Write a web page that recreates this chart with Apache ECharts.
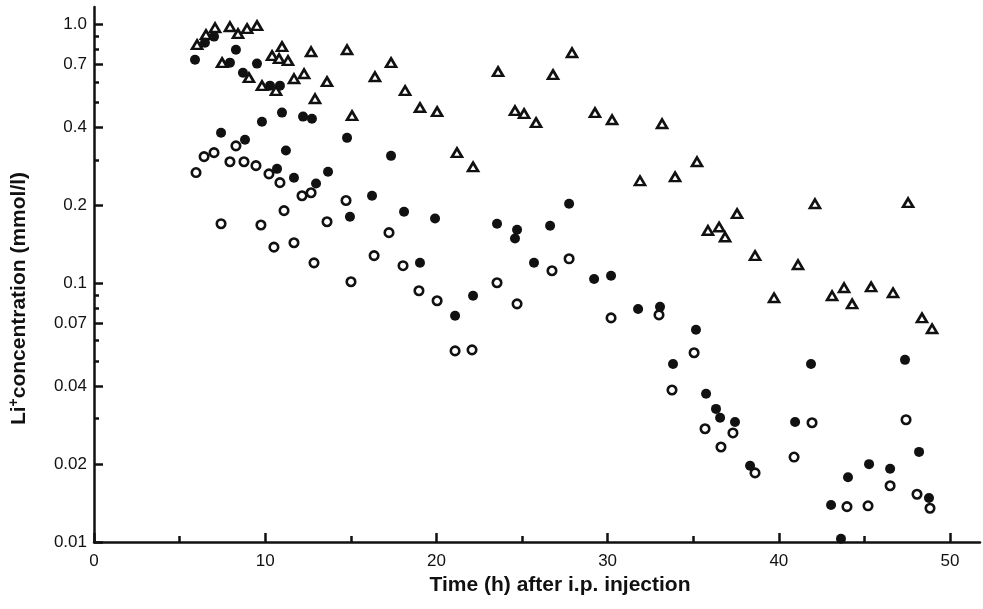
<!DOCTYPE html>
<html>
<head>
<meta charset="utf-8">
<script src="https://cdn.jsdelivr.net/npm/echarts@6/dist/echarts.min.js"></script>
<style>
  html, body { margin: 0; padding: 0; background: #fff; }
  #chart { width: 983px; height: 609px; }
</style>
</head>
<body>
<div id="chart"></div>
<script>
// [time (h), Li+ concentration (mmol/l)]
const triangles = [
  [6.02, 0.837], [6.54, 0.915], [7.07, 0.973], [7.94, 0.982], [8.41, 0.923],
  [8.94, 0.965], [9.52, 0.991], [7.48, 0.713], [9.05, 0.624], [9.81, 0.581],
  [10.40, 0.759], [10.81, 0.739], [10.98, 0.822], [11.33, 0.726], [10.63, 0.556],
  [11.68, 0.618], [12.27, 0.646], [12.68, 0.786], [12.91, 0.517], [13.61, 0.602],
  [14.78, 0.800], [15.07, 0.445], [16.41, 0.629], [17.35, 0.713], [18.17, 0.556],
  [19.04, 0.478], [20.04, 0.461], [21.20, 0.320], [22.14, 0.282], [23.60, 0.658],
  [24.59, 0.465], [25.12, 0.453], [25.82, 0.418], [26.81, 0.641], [27.92, 0.779],
  [29.26, 0.457], [30.26, 0.429], [31.89, 0.249], [33.18, 0.414], [33.94, 0.258],
  [35.22, 0.295], [37.56, 0.186], [35.86, 0.160], [36.51, 0.165], [36.86, 0.151],
  [38.61, 0.128], [41.12, 0.118], [42.11, 0.203], [39.72, 0.0879], [43.11, 0.0895],
  [43.81, 0.0961], [44.28, 0.0833], [45.39, 0.0969], [46.67, 0.0919], [47.55, 0.205],
  [48.36, 0.0735], [48.95, 0.0667]
];

const filledCircles = [
  [5.90, 0.732], [6.48, 0.852], [7.01, 0.899], [8.29, 0.800], [7.94, 0.713],
  [9.52, 0.707], [8.70, 0.652], [10.28, 0.581], [10.86, 0.581], [10.98, 0.457],
  [9.81, 0.421], [12.21, 0.441], [12.73, 0.433], [7.42, 0.382], [8.82, 0.359],
  [14.78, 0.365], [11.21, 0.326], [10.69, 0.277], [11.68, 0.256], [13.67, 0.270],
  [12.97, 0.243], [14.95, 0.181], [17.35, 0.311], [16.24, 0.218], [18.11, 0.189],
  [19.92, 0.178], [23.54, 0.170], [24.71, 0.161], [24.59, 0.149], [26.64, 0.167],
  [27.75, 0.203], [19.04, 0.120], [25.70, 0.120], [29.21, 0.104], [30.20, 0.107],
  [22.14, 0.0895], [21.09, 0.0749], [31.78, 0.0796], [33.06, 0.0811], [35.16, 0.0661],
  [33.82, 0.0488], [41.88, 0.0488], [47.37, 0.0506], [35.75, 0.0374], [36.33, 0.0327],
  [36.57, 0.0302], [37.44, 0.0291], [38.32, 0.0197], [40.95, 0.0291], [48.19, 0.0223],
  [45.27, 0.0200], [46.50, 0.0192], [44.04, 0.0178], [43.05, 0.0139], [48.77, 0.0148],
  [43.63, 0.0103]
];

const openCircles = [
  [5.96, 0.268], [6.43, 0.309], [7.01, 0.320], [8.29, 0.340], [7.94, 0.295],
  [8.76, 0.295], [9.46, 0.285], [10.22, 0.265], [10.86, 0.245], [12.15, 0.218],
  [12.68, 0.224], [11.10, 0.191], [7.42, 0.170], [9.75, 0.168], [13.61, 0.173],
  [14.72, 0.209], [10.51, 0.138], [11.68, 0.1435], [12.85, 0.120], [17.23, 0.157],
  [16.36, 0.128], [18.05, 0.117], [15.01, 0.1014], [18.98, 0.0936], [20.04, 0.0856],
  [23.54, 0.1005], [24.71, 0.0833], [21.09, 0.0548], [22.08, 0.0553], [26.75, 0.1118],
  [27.75, 0.1244], [30.20, 0.0735], [33.00, 0.0755], [35.05, 0.0539], [33.76, 0.0387],
  [35.69, 0.0274], [36.62, 0.0233], [37.32, 0.0264], [38.61, 0.0185], [41.94, 0.0289],
  [40.89, 0.0213], [47.43, 0.0297], [43.98, 0.0137], [45.21, 0.0138], [46.50, 0.0165],
  [48.07, 0.0153], [48.83, 0.0135]
];

const xMajorTicks = [0, 10, 20, 30, 40, 50];
const xMinorTicks = [5, 15, 25, 35, 45];
const yMajorTicks = [0.01, 0.02, 0.04, 0.07, 0.1, 0.2, 0.4, 0.7, 1.0];
const yMajorLabels = ['0.01', '0.02', '0.04', '0.07', '0.1', '0.2', '0.4', '0.7', '1.0'];
const yMinorTicks = [0.03, 0.05, 0.06, 0.08, 0.09, 0.3, 0.5, 0.6, 0.8, 0.9];

const xMax = 51.75;
const yMin = 0.01;
const yMax = 1.17;

const chart = echarts.init(document.getElementById('chart'));

const font = '"Liberation Sans", Arial, sans-serif';
const ink = '#111';

// the plotted data sit on the log axis; the two value axes (in log10 units)
// only carry the hand-picked ticks and labels of the original figure
const logMin = Math.log10(yMin);
const logMax = Math.log10(yMax);

function yLabel(v) {
  let best = 0;
  yMajorTicks.forEach((t, i) => {
    if (Math.abs(Math.log10(t) - v) < Math.abs(Math.log10(yMajorTicks[best]) - v)) best = i;
  });
  return yMajorLabels[best];
}

const option = {
  backgroundColor: '#fff',
  animation: false,
  grid: {
    left: 94, right: 3, top: 7, bottom: 67,
    containLabel: false,
    outerBoundsMode: 'none'
  },
  xAxis: [
    {
      type: 'value',
      min: 0,
      max: xMax,
      position: 'bottom',
      name: 'Time (h) after i.p. injection',
      nameLocation: 'middle',
      nameGap: 33,
      nameTextStyle: {
        fontFamily: font, fontSize: 21, fontWeight: 'bold', color: ink,
        padding: [0, 0, 0, 46]
      },
      axisLine: { show: true, onZero: false, lineStyle: { color: ink, width: 2.5 } },
      axisTick: {
        show: true, inside: true, length: 9,
        customValues: xMajorTicks,
        lineStyle: { color: ink, width: 2.5 }
      },
      axisLabel: {
        show: true, margin: 11,
        customValues: xMajorTicks,
        fontFamily: font, fontSize: 17, color: ink
      },
      splitLine: { show: false }
    },
    {
      type: 'value',
      min: 0,
      max: xMax,
      position: 'bottom',
      axisLine: { show: false, onZero: false },
      axisTick: {
        show: true, inside: true, length: 6,
        customValues: xMinorTicks,
        lineStyle: { color: ink, width: 2.5 }
      },
      axisLabel: { show: false },
      splitLine: { show: false }
    }
  ],
  yAxis: [
    {
      type: 'log',
      logBase: 10,
      min: yMin,
      max: yMax,
      show: false
    },
    {
      type: 'value',
      min: logMin,
      max: logMax,
      position: 'left',
      name: 'Li{sup|+}concentration (mmol/l)',
      nameLocation: 'middle',
      nameGap: 63,
      nameRotate: 90,
      nameTextStyle: {
        fontFamily: font, fontSize: 21, fontWeight: 'bold', color: ink,
        padding: [0, 48, 0, 0],
        rich: {
          sup: {
            fontFamily: font, fontSize: 14, fontWeight: 'bold', color: ink,
            verticalAlign: 'bottom', padding: [0, 0, 10, 0]
          }
        }
      },
      axisLine: { show: true, onZero: false, lineStyle: { color: ink, width: 2.5 } },
      axisTick: {
        show: true, inside: true, length: 9,
        customValues: yMajorTicks.map(Math.log10),
        lineStyle: { color: ink, width: 2.5 }
      },
      axisLabel: {
        show: true, margin: 7,
        customValues: yMajorTicks.map(Math.log10),
        formatter: yLabel,
        fontFamily: font, fontSize: 17, color: ink
      },
      splitLine: { show: false }
    },
    {
      type: 'value',
      min: logMin,
      max: logMax,
      position: 'left',
      axisLine: { show: false, onZero: false },
      axisTick: {
        show: true, inside: true, length: 5,
        customValues: yMinorTicks.map(Math.log10),
        lineStyle: { color: ink, width: 2.5 }
      },
      axisLabel: { show: false },
      splitLine: { show: false }
    }
  ],
  series: [
    {
      name: 'triangles',
      type: 'scatter',
      xAxisIndex: 0,
      yAxisIndex: 0,
      data: triangles,
      symbol: 'triangle',
      symbolSize: [10, 8.5],
      itemStyle: { color: '#fff', borderColor: ink, borderWidth: 2.6, opacity: 1 }
    },
    {
      name: 'open circles',
      type: 'scatter',
      xAxisIndex: 0,
      yAxisIndex: 0,
      data: openCircles,
      symbol: 'circle',
      symbolSize: 8.5,
      itemStyle: { color: '#fff', borderColor: ink, borderWidth: 2.6, opacity: 1 }
    },
    {
      name: 'filled circles',
      type: 'scatter',
      xAxisIndex: 0,
      yAxisIndex: 0,
      data: filledCircles,
      symbol: 'circle',
      symbolSize: 10,
      itemStyle: { color: ink, opacity: 1 }
    }
  ]
};

chart.setOption(option);
</script>
</body>
</html>
